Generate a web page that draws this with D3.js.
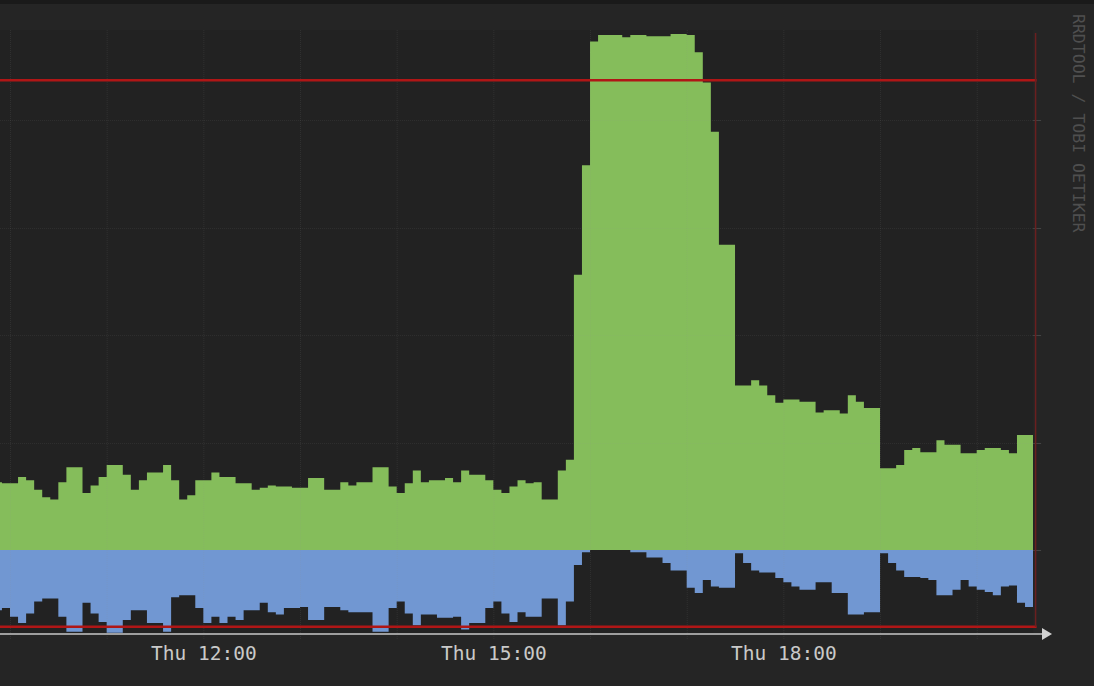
<!DOCTYPE html>
<html><head><meta charset="utf-8">
<script src="https://cdn.jsdelivr.net/npm/d3@7"></script>
<style>html,body{margin:0;padding:0;background:#252525;overflow:hidden}</style>
</head><body><svg id="c" width="1094" height="686"></svg>
<script>
// ---- data ----
const startTime = new Date(2024, 0, 4, 9, 50);   // Thu 09:50
const stepMinutes = 5;
const inbound = [
 6.3,6.2,6.2,6.8,6.5,5.6,4.9,4.7,6.3,7.7,
 7.7,5.3,6.0,6.8,7.9,7.9,7.0,5.6,6.5,7.2,
 7.2,7.9,6.5,4.7,5.1,6.5,6.5,7.2,6.8,6.8,
 6.2,6.2,5.6,5.8,6.0,5.9,5.9,5.8,5.8,6.7,
 6.7,5.6,5.6,6.3,6.0,6.3,6.3,7.7,7.7,5.9,
 5.3,6.2,7.4,6.3,6.5,6.5,6.7,6.3,7.4,7.0,
 7.0,6.5,5.6,5.3,5.9,6.5,6.2,6.3,4.7,4.7,
 7.4,8.4,25.6,35.8,47.3,47.9,47.9,47.9,47.7,47.9,
 47.9,47.8,47.8,47.8,48.0,48.0,47.9,46.3,43.5,38.9,
 28.4,28.4,15.3,15.3,15.8,15.3,14.4,13.7,14.0,14.0,
 13.8,13.8,12.8,13.0,13.0,12.7,14.4,13.8,13.2,13.2,
 7.6,7.6,7.9,9.3,9.5,9.1,9.1,10.2,9.8,9.8,
 9.0,9.0,9.3,9.5,9.5,9.3,9.0,10.7,10.7
];
const outbound = [
 -5.6,-5.4,-6.2,-6.8,-5.9,-4.8,-4.5,-4.5,-6.2,-7.6,
 -7.6,-4.9,-5.9,-6.7,-7.7,-7.7,-6.5,-5.6,-5.6,-6.8,
 -6.8,-7.6,-4.4,-4.2,-4.2,-5.4,-6.8,-6.2,-6.8,-6.2,
 -6.5,-5.6,-5.6,-4.9,-5.8,-6.0,-5.4,-5.4,-5.3,-6.5,
 -6.5,-5.3,-5.3,-5.6,-5.8,-5.8,-5.8,-7.6,-7.6,-5.4,
 -4.8,-5.9,-7.0,-6.0,-6.0,-6.3,-6.3,-6.2,-7.4,-6.8,
 -6.8,-5.4,-4.8,-5.9,-6.7,-5.8,-6.2,-6.2,-4.5,-4.5,
 -7.0,-4.8,-1.4,-0.2,0,0,0,0,0,-0.2,
 -0.2,-0.7,-0.7,-1.2,-1.9,-1.9,-3.5,-4.0,-2.8,-3.4,
 -3.5,-3.5,-0.3,-1.2,-1.9,-2.1,-2.1,-2.6,-3.0,-3.4,
 -3.7,-3.7,-3.0,-3.0,-4.0,-4.0,-6.0,-6.0,-5.8,-5.8,
 -0.3,-1.2,-1.9,-2.5,-2.5,-2.6,-2.8,-4.2,-4.2,-3.7,
 -2.8,-3.4,-3.7,-3.9,-4.2,-3.4,-3.3,-4.9,-5.3
];
const thresholds = [43.7, -7.15];
const gridValues = [0, 10, 20, 30, 40];
const gridHours = [10,11,12,13,14,15,16,17,18,19,20];
const tickHours = [12, 15, 18];
const tickLabels = ["Thu 12:00", "Thu 15:00", "Thu 18:00"];
const watermark = "RRDTOOL / TOBI OETIKER";

// ---- scales ----
const at = (h, m=0) => new Date(2024, 0, 4, h, m);
const x = d3.scaleTime().domain([at(10), at(20)]).range([10, 976.7]);
const y = d3.scaleLinear().domain([0, 10]).range([550, 442.5]);
const plotTop = 30, plotBottom = 634;

const toPts = vals => {
  const pts = vals.map((v, i) => ({t: new Date(+startTime + i*stepMinutes*60000), v}));
  pts.push({t: new Date(+startTime + vals.length*stepMinutes*60000), v: vals[vals.length-1]});
  return pts;
};
const inPts = toPts(inbound), outPts = toPts(outbound);
const endT = inPts[inPts.length-1].t;
const xEnd = x(endT);

const svg = d3.select("#c");
svg.append("rect").attr("width",1094).attr("height",686).attr("fill","#252525");
svg.append("rect").attr("width",1094).attr("height",4).attr("fill","#1a1a1a");
svg.append("rect").attr("x",0).attr("y",plotTop).attr("width",xEnd).attr("height",plotBottom-plotTop).attr("fill","#222222");

const defs = svg.append("defs");
defs.append("clipPath").attr("id","clip").append("rect")
  .attr("x",0).attr("y",0).attr("width",xEnd).attr("height",plotBottom);

const g = svg.append("g").attr("clip-path","url(#clip)");
const area = d3.area().curve(d3.curveStepAfter).x(d => x(d.t)).y0(y(0)).y1(d => y(d.v));
g.append("path").datum(inPts).attr("d", area).attr("fill","#85bd5b");
g.append("path").datum(outPts).attr("d", area).attr("fill","#7197d2");

// grid on top
const grid = svg.append("g");
grid.selectAll("line.v").data(gridHours).join("line")
  .attr("x1", h => x(at(h)) + 0.5).attr("x2", h => x(at(h)) + 0.5)
  .attr("y1", plotTop).attr("y2", plotBottom + 6)
  .attr("stroke","rgba(150,150,150,0.13)").attr("stroke-width",1).attr("stroke-dasharray","1,1");
grid.selectAll("line.h").data(gridValues.filter(v => v !== 0)).join("line")
  .attr("x1", 0).attr("x2", xEnd)
  .attr("y1", v => Math.round(y(v)) + 0.5).attr("y2", v => Math.round(y(v)) + 0.5)
  .attr("stroke","rgba(150,150,150,0.11)").attr("stroke-width",1).attr("stroke-dasharray","1,1");
// right-side ticks
grid.selectAll("line.rt").data(gridValues).join("line")
  .attr("x1", xEnd).attr("x2", xEnd + 8)
  .attr("y1", v => Math.round(y(v)) + 0.5).attr("y2", v => Math.round(y(v)) + 0.5)
  .attr("stroke","#444").attr("stroke-width",1);

// threshold lines
svg.selectAll("line.th").data(thresholds).join("line")
  .attr("x1", 0).attr("x2", xEnd + 3.5)
  .attr("y1", v => y(v)).attr("y2", v => y(v))
  .attr("stroke","#b01616").attr("stroke-width",2.5);
// vertical rule at end
svg.append("line").attr("x1", xEnd + 2.5).attr("x2", xEnd + 2.5)
  .attr("y1", 33).attr("y2", y(thresholds[1]))
  .attr("stroke","#6a1f1f").attr("stroke-width",1.5);

// x axis line + arrow
svg.append("line").attr("x1",0).attr("x2",1044).attr("y1",plotBottom).attr("y2",plotBottom)
  .attr("stroke","#9e9e9e").attr("stroke-width",2);
svg.append("path").attr("d","M1042,628 L1052,634 L1042,640 Z").attr("fill","#d2d2d2");

// tick labels
const axis = d3.axisBottom(x).tickValues(tickHours.map(h => at(h)))
  .tickFormat((d, i) => tickLabels[i]).tickSize(0).tickPadding(12);
const ax = svg.append("g").attr("transform", `translate(0,${plotBottom})`).call(axis);
ax.select(".domain").remove();
ax.selectAll("text").attr("font-family","'DejaVu Sans Mono', monospace")
  .attr("font-size", "19.5px").attr("fill","#c9c9c9");

// watermark
svg.append("text").attr("transform","translate(1073,14) rotate(90)")
  .attr("font-family","'DejaVu Sans Mono', monospace").attr("font-size","16.5px")
  .attr("fill","#4f4f4f").text(watermark);
</script></body></html>
